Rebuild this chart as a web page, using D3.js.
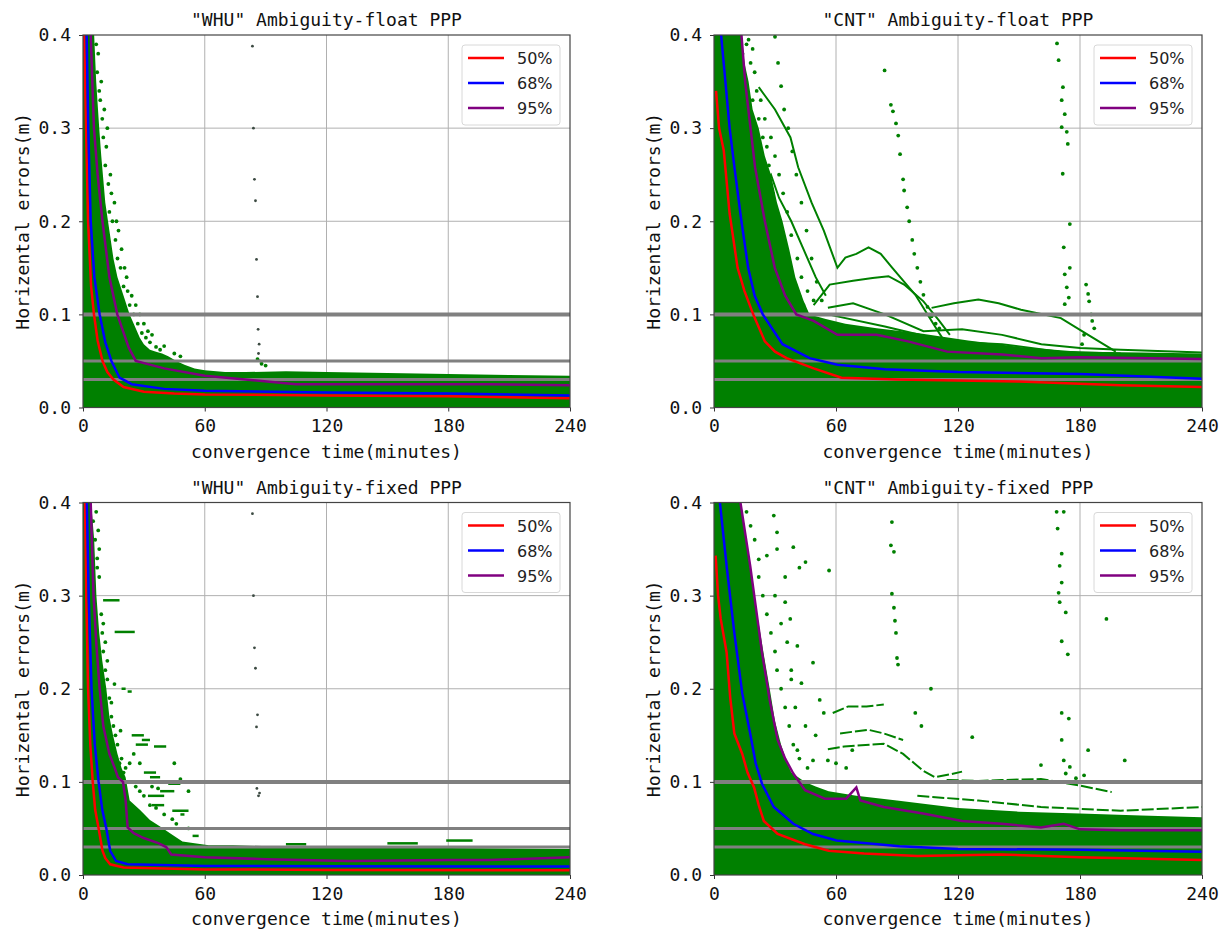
<!DOCTYPE html>
<html>
<head>
<meta charset="utf-8">
<script src="https://cdn.jsdelivr.net/npm/d3@7"></script>
<style>
  body { margin: 0; background: white; }
</style>
</head>
<body>
<div id="chart"></div>
<script>
//axis ticks, thresholds and legend names
const xTicks = [0, 60, 120, 180, 240];
const yTicks = [0.0, 0.1, 0.2, 0.3, 0.4];
const thresholds = [0.1, 0.05, 0.03];
const percentNames = ["50%", "68%", "95%"];
const percentColors = ["#ff0000", "#0000ff", "#800080"];

// ---- "WHU" float ----
const whuFloatP50 = [[0.6,0.4],[1.5,0.3],[2.5,0.2],[4,0.13],[5.4,0.1],[7.2,0.072],[9.6,0.05],[12,0.038],[15,0.03],[20,0.022],[30,0.017],[45,0.015],[60,0.014],[120,0.013],[180,0.012],[240,0.01]];
const whuFloatP68 = [[1.8,0.4],[2.6,0.3],[3.8,0.2],[5.6,0.14],[8.2,0.1],[11,0.07],[14,0.05],[18,0.032],[24,0.025],[40,0.02],[60,0.018],[120,0.016],[180,0.015],[240,0.013]];
const whuFloatP95 = [[3.8,0.4],[5.4,0.3],[7.2,0.25],[9.6,0.2],[13,0.14],[16.9,0.1],[22.6,0.064],[26,0.05],[40,0.042],[60,0.034],[80,0.03],[105,0.025],[150,0.025],[200,0.025],[240,0.024]];
const whuFloatCloud = [[0,0.4],[5.5,0.4],[6.5,0.35],[8,0.3],[9,0.27],[11,0.22],[13,0.19],[15,0.16],[17,0.14],[20,0.12],[23,0.1],[25,0.09],[28,0.075],[30,0.068],[33,0.062],[36,0.06],[39,0.058],[42,0.055],[46,0.05],[50,0.046],[55,0.042],[60,0.04],[70,0.038],[80,0.038],[100,0.039],[120,0.038],[150,0.037],[180,0.036],[210,0.035],[240,0.034]];
const whuFloatDots = [[6.5,0.39],[7,0.36],[8,0.34],[9.5,0.31],[10,0.29],[11,0.26],[12.5,0.24],[13,0.21],[14.5,0.2],[16,0.18],[17,0.16],[18.5,0.15],[20,0.13],[22,0.125],[23,0.11],[25,0.1],[27,0.09],[29,0.08],[31,0.075],[33,0.07],[36,0.065],[38,0.062],[45,0.058],[86,0.052],[88,0.047],[90,0.045],
  [7.5,0.38],[8.5,0.33],[9,0.35],[10.5,0.32],[11.5,0.28],[12,0.3],[13.5,0.25],[14,0.23],[15.5,0.22],[16.5,0.2],[17.5,0.19],[19,0.17],[20.5,0.15],[21.5,0.14],[24,0.12],[26,0.11],[28,0.1],[30,0.09],[32,0.082],[34,0.078],[40,0.066],[48,0.055]];
const whuFloatDark = [[83.5,0.388],[84,0.3],[84.5,0.245],[85,0.222],[85.5,0.159],[86,0.119],[86.3,0.084],[86.8,0.068],[86.5,0.058],[87,0.05]];

// ---- "CNT" float ----
const cntFloatP50 = [[1,0.34],[2.5,0.3],[4.8,0.276],[7.7,0.208],[11.6,0.15],[15,0.125],[19.3,0.1],[25,0.071],[30,0.06],[35.7,0.053],[49,0.042],[62.7,0.032],[90,0.03],[150,0.028],[200,0.024],[240,0.022]];
const cntFloatP68 = [[3.5,0.4],[7.7,0.3],[10.5,0.25],[13.5,0.2],[16.8,0.15],[20,0.12],[24,0.1],[33.7,0.068],[47,0.053],[60.7,0.046],[84,0.041],[120,0.038],[180,0.036],[240,0.031]];
const cntFloatP95 = [[13.5,0.4],[15.4,0.348],[20.2,0.258],[25,0.2],[29.9,0.15],[35,0.12],[40.5,0.1],[49,0.093],[60.7,0.078],[80,0.078],[95.4,0.071],[114.7,0.06],[141.7,0.057],[161,0.053],[180,0.054],[240,0.052]];
const cntFloatCloud = [[0,0.4],[13.5,0.4],[15,0.37],[17,0.35],[19,0.32],[22,0.3],[25,0.27],[28,0.25],[31,0.22],[33.7,0.2],[37,0.17],[40,0.14],[44,0.115],[47,0.1],[55,0.095],[64.6,0.09],[80,0.085],[100,0.08],[125,0.072],[150,0.065],[180,0.06],[210,0.059],[240,0.058]];
const cntFloatTracks = [
  [[22,0.344],[30,0.32],[37.6,0.29],[41.4,0.258],[48,0.22],[54,0.19],[60.7,0.15],[64.6,0.161],[70,0.165],[76,0.172],[82,0.165],[87.7,0.15],[99,0.121],[109,0.086],[116.6,0.06]],
  [[49,0.11],[56.9,0.132],[68.4,0.136],[78,0.139],[85.8,0.141],[93.5,0.132],[103,0.114],[110.8,0.093],[116,0.078]],
  [[107,0.107],[118,0.112],[130,0.116],[140,0.112],[151,0.105],[170.6,0.096],[184,0.078],[197.6,0.06]],
  [[56,0.107],[68.4,0.112],[84,0.1],[103,0.082],[122,0.084],[141.7,0.078],[161,0.068],[180,0.064],[200,0.062],[240,0.059]],
  [[56,0.1],[84,0.087],[115,0.071],[141.7,0.068],[170,0.06],[200,0.058]],
  [[22,0.235],[28,0.25],[32,0.225],[38,0.2],[44,0.17],[50,0.14],[55,0.12]]
];
const cntFloatDots = [[30,0.398],[31.5,0.37],[33,0.345],[34.5,0.32],[36.5,0.3],[38.5,0.275],[40.5,0.25],[43,0.22],[45.5,0.19],[48,0.16],[50.5,0.135],[53,0.115],
  [83.9,0.362],[87,0.325],[88,0.318],[89.5,0.305],[90.6,0.292],[91.5,0.272],[93,0.245],[93.5,0.233],[95,0.215],[96,0.2],[97.5,0.18],[98.5,0.165],[100,0.15],[101.5,0.135],[103,0.121],[105,0.108],[107,0.098],[109,0.09],[110.8,0.085],
  [168.7,0.391],[169.5,0.373],[171.6,0.344],[171,0.33],[172.5,0.315],[171,0.301],[173.5,0.296],[174,0.283],[171.5,0.251],[175,0.197],[172,0.172],[175,0.15],[172.5,0.143],[173.5,0.129],[174.5,0.118],[172.5,0.111],[183,0.132],[184,0.122],[184.5,0.114],[185.5,0.1],[186,0.093],[187,0.085],[182,0.078],[181,0.068],
  [16,0.39],[18,0.37],[20,0.36],[19,0.33],[22,0.31],[24,0.29],[26,0.28],[27,0.26],[29,0.23],[31,0.21],[33,0.19],[35,0.17],[37,0.15],[40,0.13],[42,0.12],[44,0.11],[14,0.38],[12,0.398],
  [17,0.395],[19,0.385],[21,0.34],[23,0.33],[25,0.31],[28,0.29],[30,0.27],[32,0.25],[34,0.23],[36,0.21],[38,0.185],[41,0.16],[43,0.14],[46,0.125],[49,0.115]];

// ---- "WHU" fixed ----
const whuFixedP50 = [[1,0.4],[1.6,0.3],[2.5,0.2],[3.6,0.14],[4.8,0.1],[6,0.07],[7.7,0.05],[9.6,0.026],[11,0.018],[13.4,0.0115],[20,0.008],[60,0.006],[120,0.0055],[240,0.005]];
const whuFixedP68 = [[1.9,0.4],[2.8,0.3],[4.2,0.2],[5.8,0.14],[7.7,0.1],[9.5,0.07],[11.5,0.05],[13.4,0.026],[16.3,0.015],[22,0.0115],[60,0.0097],[120,0.0095],[240,0.009]];
const whuFixedP95 = [[3.8,0.4],[5.2,0.3],[6.5,0.25],[8.2,0.2],[10,0.16],[11.5,0.145],[13,0.13],[15.6,0.115],[17.2,0.105],[19.7,0.1],[21,0.08],[22,0.051],[25,0.045],[29.6,0.04],[37.4,0.034],[41,0.03],[43.5,0.022],[60,0.019],[90,0.017],[131,0.015],[180,0.016],[200,0.016],[240,0.019]];
const whuFixedCloud = [[0,0.4],[4,0.4],[5.5,0.36],[6.6,0.3],[8,0.26],[9.5,0.23],[11.5,0.2],[13,0.17],[14.8,0.15],[17,0.13],[19,0.115],[21,0.105],[23,0.08],[28,0.07],[33,0.059],[38,0.052],[42.7,0.045],[49,0.036],[55,0.034],[62,0.032],[74,0.032],[120,0.029],[180,0.029],[240,0.028]];
const whuFixedDashes = [[9.9,18,0.295],[15.6,25.5,0.261],[19,21,0.2],[22,24,0.197],[24,30,0.15],[26,32,0.14],[29,33,0.145],[35,41,0.138],[30,36,0.11],[33,38,0.105],[32,40,0.085],[38,45,0.09],[42,48,0.098],[44,52,0.069],[34,40,0.075],[48,50,0.065],[54,57,0.042],[179,192,0.037],[100,110,0.033],[150,165,0.034]];
const whuFixedDots = [[5,0.38],[6,0.36],[7,0.34],[8,0.32],[9,0.28],[9.5,0.26],[10,0.24],[11,0.22],[12,0.21],[13,0.19],[14,0.17],[15,0.16],[17,0.14],[18,0.12],[20,0.11],[23,0.12],[25,0.13],[28,0.12],[31,0.1],[34,0.095],[37,0.093],[40,0.1],[45,0.12],[48,0.103],[52,0.09],[18.5,0.155],[15.5,0.205],
  [6.5,0.39],[7.5,0.37],[8,0.35],[7,0.33],[10,0.27],[11,0.25],[12,0.23],[14,0.185],[16,0.15],[19,0.125],[21,0.115],[24,0.1],[26,0.095],[28,0.09],[30,0.085],[33,0.075],[36,0.072],[40,0.065],[44,0.06],[46,0.055],[52,0.05]];
const whuFixedDark = [[83.5,0.388],[84,0.3],[84.5,0.244],[85,0.222],[86,0.172],[85.5,0.159],[85.7,0.093],[86.5,0.085],[87,0.088]];

// ---- "CNT" fixed ----
const cntFixedP50 = [[0.8,0.343],[2,0.3],[3.3,0.275],[6.2,0.239],[8,0.19],[10,0.152],[13.9,0.13],[16.5,0.11],[19.7,0.094],[22,0.075],[24.5,0.058],[31.3,0.044],[44.8,0.033],[56.4,0.026],[73.8,0.023],[100,0.0205],[141,0.022],[180,0.019],[240,0.016]];
const cntFixedP68 = [[2.9,0.4],[6.2,0.332],[10,0.26],[13.9,0.195],[17.8,0.152],[20.5,0.12],[23.6,0.098],[29.4,0.073],[39,0.055],[48.7,0.044],[60.3,0.037],[91.2,0.031],[120,0.028],[180,0.027],[240,0.025]];
const cntFixedP95 = [[13,0.4],[17.8,0.332],[23.6,0.239],[27.4,0.188],[31.3,0.145],[35,0.125],[39,0.109],[44.8,0.091],[54.5,0.082],[65,0.082],[70,0.094],[72,0.08],[83.5,0.073],[102.8,0.066],[122,0.058],[141.4,0.055],[160.8,0.051],[172,0.055],[180,0.049],[200,0.048],[240,0.048]];
const cntFixedCloud = [[0,0.4],[13,0.4],[15,0.37],[17,0.34],[19.7,0.3],[22,0.27],[25,0.23],[27.4,0.2],[30,0.165],[33,0.14],[36,0.12],[38,0.11],[44.8,0.1],[50,0.095],[56.4,0.09],[70,0.085],[90,0.08],[120,0.072],[150,0.068],[180,0.066],[210,0.064],[240,0.062]];
const cntFixedTracks = [
  [[58.4,0.174],[66,0.181],[75,0.181],[83.5,0.183]],
  [[62,0.152],[75.8,0.156],[83.5,0.152],[93,0.145]],
  [[56,0.135],[64,0.138],[83.5,0.141],[93,0.13],[102.8,0.112],[108.6,0.105],[116,0.108],[122,0.111]],
  [[114.4,0.102],[130,0.101],[141.4,0.102],[160.8,0.103],[180,0.096],[195.6,0.089]],
  [[100,0.085],[130,0.08],[160.8,0.073],[200,0.069],[240,0.073]]
];
const cntFixedDots = [[87.5,0.379],[87,0.354],[88.5,0.347],[87.5,0.302],[88.5,0.287],[89,0.273],[89.5,0.26],[90,0.233],[90.5,0.226],[106.7,0.2],[99,0.174],[102,0.16],
  [168.5,0.39],[172,0.39],[169,0.372],[171,0.345],[170,0.332],[171,0.314],[169.5,0.303],[170,0.293],[173,0.282],[171,0.251],[174,0.237],[171,0.174],[174.5,0.168],[171,0.145],[172,0.123],[175,0.116],[173,0.109],[193,0.275],[202,0.123],[127,0.148],[160.8,0.118],[184,0.134],[182,0.107],[178,0.104],
  [29.4,0.386],[31,0.368],[22,0.339],[26,0.343],[31,0.35],[35,0.32],[39,0.352],[45,0.336],[56.6,0.327],[35,0.293],[37.5,0.275],[41,0.246],[43,0.206],[48.7,0.228],[52,0.188],[54,0.174],[41,0.134],[48.7,0.123],[56,0.123],[68,0.134],[42,0.33],[30,0.3],[33,0.27],[36,0.25],[38,0.22],[40,0.18],[45,0.16],[50,0.15],[60,0.12],[65,0.115],[38,0.21],
  [16,0.39],[18,0.375],[20,0.36],[22,0.32],[24,0.3],[26,0.28],[28,0.26],[30,0.24],[31,0.22],[33,0.2],[35,0.18],[37,0.16],[39,0.14],[42,0.125],[46,0.115]];

//panel setup
const panels = [
  { title: '"WHU" Ambiguity-float PPP', left: 83, top: 35, right: 570, bottom: 407.5,
    cloud: whuFloatCloud, dots: whuFloatDots, dark: whuFloatDark, tracks: [], dashes: [],
    curves: [whuFloatP50, whuFloatP68, whuFloatP95] },
  { title: '"CNT" Ambiguity-float PPP', left: 714, top: 35, right: 1202, bottom: 407.5,
    cloud: cntFloatCloud, dots: cntFloatDots, dark: [], tracks: cntFloatTracks, dashes: [],
    curves: [cntFloatP50, cntFloatP68, cntFloatP95] },
  { title: '"WHU" Ambiguity-fixed PPP', left: 83, top: 502.5, right: 570, bottom: 875,
    cloud: whuFixedCloud, dots: whuFixedDots, dark: whuFixedDark, tracks: [], dashes: whuFixedDashes,
    curves: [whuFixedP50, whuFixedP68, whuFixedP95] },
  { title: '"CNT" Ambiguity-fixed PPP', left: 714, top: 502.5, right: 1202, bottom: 875,
    cloud: cntFixedCloud, dots: cntFixedDots, dark: [], tracks: cntFixedTracks, dashes: [],
    curves: [cntFixedP50, cntFixedP68, cntFixedP95], dashedTracks: true }
];

const width = 1223;
const height = 931;
const monoFont = "'DejaVu Sans Mono', monospace";

const svg = d3.select("#chart")
  .append("svg")
  .attr("width", width)
  .attr("height", height);

panels.forEach(function(p, i) {
  createPanel(p, i);
});

function createPanel(p, i) {
  const xScale = d3.scaleLinear().domain([0, 240]).range([p.left, p.right]);
  const yScale = d3.scaleLinear().domain([0, 0.4]).range([p.bottom, p.top]);

  const g = svg.append("g");

  //clip to plot area
  g.append("clipPath")
    .attr("id", "clip" + i)
    .append("rect")
    .attr("x", p.left)
    .attr("y", p.top)
    .attr("width", p.right - p.left)
    .attr("height", p.bottom - p.top);

  //grid
  g.selectAll(".vgrid")
    .data(xTicks.slice(1, -1))
    .enter().append("line")
    .attr("x1", function(d) { return xScale(d); })
    .attr("x2", function(d) { return xScale(d); })
    .attr("y1", p.top)
    .attr("y2", p.bottom)
    .attr("stroke", "#b0b0b0")
    .attr("stroke-width", 1);

  g.selectAll(".hgrid")
    .data(yTicks.slice(1, -1))
    .enter().append("line")
    .attr("y1", function(d) { return yScale(d); })
    .attr("y2", function(d) { return yScale(d); })
    .attr("x1", p.left)
    .attr("x2", p.right)
    .attr("stroke", "#b0b0b0")
    .attr("stroke-width", 1);

  const plot = g.append("g").attr("clip-path", "url(#clip" + i + ")");

  //dense green cloud
  const area = d3.area()
    .x(function(d) { return xScale(d[0]); })
    .y0(yScale(0))
    .y1(function(d) { return yScale(d[1]); });

  plot.append("path")
    .datum(p.cloud)
    .attr("d", area)
    .attr("fill", "#008000");

  const line = d3.line()
    .x(function(d) { return xScale(d[0]); })
    .y(function(d) { return yScale(d[1]); });

  //single station tracks
  plot.selectAll(".track")
    .data(p.tracks)
    .enter().append("path")
    .attr("d", line)
    .attr("fill", "none")
    .attr("stroke", "#008000")
    .attr("stroke-width", 2)
    .attr("stroke-dasharray", p.dashedTracks ? "12,3" : null);

  //short dashes
  plot.selectAll(".dash")
    .data(p.dashes)
    .enter().append("line")
    .attr("x1", function(d) { return xScale(d[0]); })
    .attr("x2", function(d) { return xScale(d[1]); })
    .attr("y1", function(d) { return yScale(d[2]); })
    .attr("y2", function(d) { return yScale(d[2]); })
    .attr("stroke", "#008000")
    .attr("stroke-width", 2.5);

  //scattered dots
  plot.selectAll(".dot")
    .data(p.dots)
    .enter().append("circle")
    .attr("cx", function(d) { return xScale(d[0]); })
    .attr("cy", function(d) { return yScale(d[1]); })
    .attr("r", 1.9)
    .attr("fill", "#008000");

  plot.selectAll(".dark")
    .data(p.dark)
    .enter().append("circle")
    .attr("cx", function(d) { return xScale(d[0]); })
    .attr("cy", function(d) { return yScale(d[1]); })
    .attr("r", 1.4)
    .attr("fill", "#3c4a42");

  //threshold lines
  plot.selectAll(".thr")
    .data(thresholds)
    .enter().append("line")
    .attr("x1", p.left)
    .attr("x2", p.right)
    .attr("y1", function(d) { return yScale(d); })
    .attr("y2", function(d) { return yScale(d); })
    .attr("stroke", "#808080")
    .attr("stroke-width", function(d) { return d === 0.1 ? 4 : 3; });

  //percentile curves
  plot.selectAll(".curve")
    .data(p.curves)
    .enter().append("path")
    .attr("d", line)
    .attr("fill", "none")
    .attr("stroke", function(d, k) { return percentColors[k]; })
    .attr("stroke-width", 2.5);

  //axes
  const xAxis = g.append("g")
    .attr("transform", "translate(0," + p.bottom + ")")
    .call(d3.axisBottom(xScale).tickValues(xTicks).tickSize(4).tickPadding(8).tickFormat(d3.format("d")));

  const yAxis = g.append("g")
    .attr("transform", "translate(" + p.left + ",0)")
    .call(d3.axisLeft(yScale).tickValues(yTicks).tickSize(4).tickPadding(8).tickFormat(d3.format(".1f")));

  [xAxis, yAxis].forEach(function(a) {
    a.select(".domain").remove();
    a.selectAll("text")
      .style("font-family", monoFont)
      .style("font-size", "18px")
      .attr("fill", "#111");
    a.selectAll("line").attr("stroke", "#333");
  });

  //frame
  g.append("rect")
    .attr("x", p.left)
    .attr("y", p.top)
    .attr("width", p.right - p.left)
    .attr("height", p.bottom - p.top)
    .attr("fill", "none")
    .attr("stroke", "#444")
    .attr("stroke-width", 1.2);

  //labels
  const cx = (p.left + p.right) / 2;
  g.append("text")
    .attr("x", cx)
    .attr("y", p.top - 9)
    .attr("text-anchor", "middle")
    .style("font-family", monoFont)
    .style("font-size", "18px")
    .attr("fill", "#111")
    .text(p.title);

  g.append("text")
    .attr("x", cx)
    .attr("y", p.bottom + 50)
    .attr("text-anchor", "middle")
    .style("font-family", monoFont)
    .style("font-size", "18px")
    .attr("fill", "#111")
    .text("convergence time(minutes)");

  g.append("text")
    .attr("transform", "translate(" + (p.left - 54) + "," + ((p.top + p.bottom) / 2) + ") rotate(-90)")
    .attr("text-anchor", "middle")
    .style("font-family", monoFont)
    .style("font-size", "18px")
    .attr("fill", "#111")
    .text("Horizental errors(m)");

  //legend
  const legend = g.append("g")
    .attr("transform", "translate(" + (p.right - 108) + "," + (p.top + 10) + ")");

  legend.append("rect")
    .attr("width", 98)
    .attr("height", 80)
    .attr("rx", 3)
    .attr("fill", "white")
    .attr("fill-opacity", 0.85)
    .attr("stroke", "#d8d8d8");

  percentNames.forEach(function(name, k) {
    const ly = 13 + k * 25;
    legend.append("line")
      .attr("x1", 6)
      .attr("x2", 42)
      .attr("y1", ly)
      .attr("y2", ly)
      .attr("stroke", percentColors[k])
      .attr("stroke-width", 2.5);
    legend.append("text")
      .attr("x", 55)
      .attr("y", ly + 6)
      .style("font-family", "'DejaVu Sans', sans-serif")
      .style("font-size", "16px")
      .attr("fill", "#222")
      .text(name);
  });
}
</script>
</body>
</html>
